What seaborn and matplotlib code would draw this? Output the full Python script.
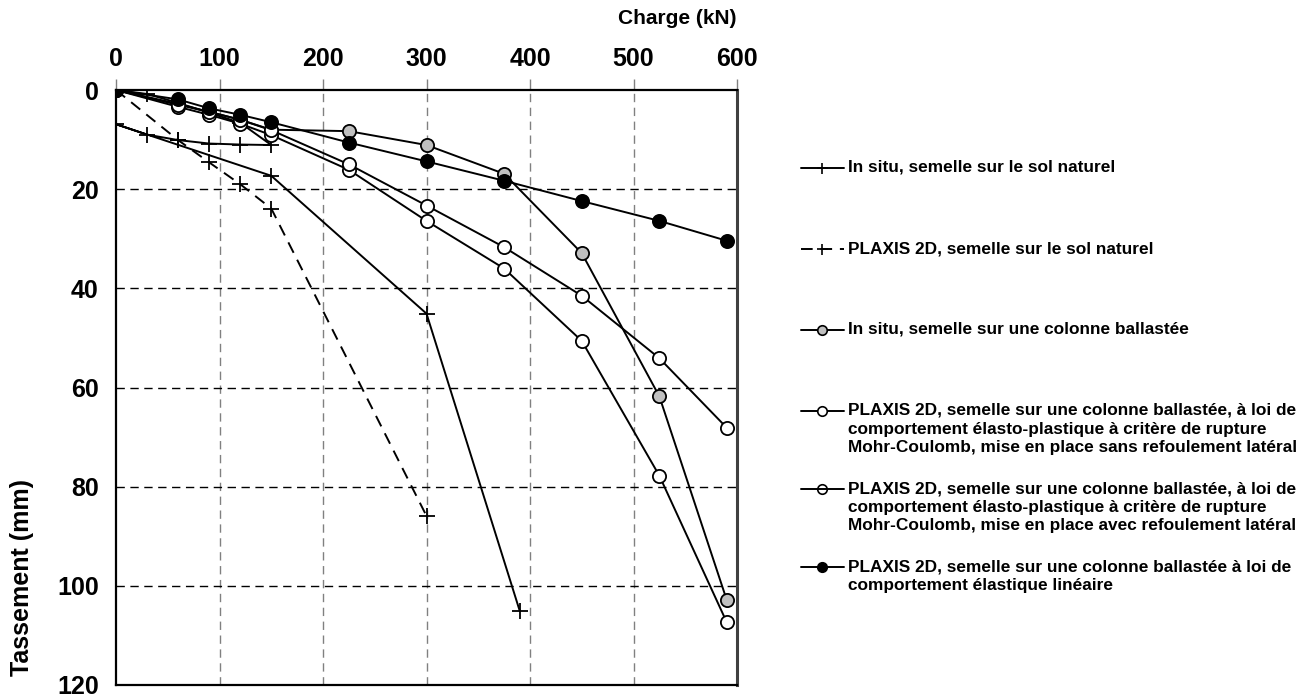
import numpy as np
import pandas as pd
import seaborn as sns
import matplotlib.pyplot as plt
from matplotlib.lines import Line2D

# Charge (kN) / tassement (mm)
charge_insitu_sol = [0, 30, 60, 90, 120, 150, 120, 90, 60, 30, 0, 150, 300, 390]
tass_insitu_sol = [0, 0.8, 2.6, 4.6, 6.6, 11.1, 11.0, 10.8, 10.1, 9.0, 6.9, 17.3, 45.1, 105.0]

charge_plaxis_sol = [0, 60, 90, 120, 150, 300]
tass_plaxis_sol = [0, 10.1, 14.6, 19.0, 23.9, 85.9]

charge_col = [0, 60, 90, 120, 150, 225, 300, 375, 450, 525, 590]
tass_insitu_col = [0, 2.8, 4.4, 6.0, 8.0, 8.3, 11.1, 16.9, 32.9, 61.8, 102.8]
tass_mc_sans = [0, 3.4, 5.0, 6.8, 9.1, 16.1, 26.4, 36.0, 50.6, 77.8, 107.3]
tass_mc_avec = [0, 3.0, 4.4, 6.0, 8.1, 15.0, 23.3, 31.7, 41.5, 54.1, 68.1]
tass_elastique = [0, 1.9, 3.7, 5.0, 6.5, 10.6, 14.4, 18.3, 22.4, 26.4, 30.4]

labels = [
    "In situ, semelle sur le sol naturel",
    "PLAXIS 2D, semelle sur le sol naturel",
    "In situ, semelle sur une colonne ballastée",
    "PLAXIS 2D, semelle sur une colonne ballastée, à loi de\ncomportement élasto-plastique à critère de rupture\nMohr-Coulomb, mise en place sans refoulement latéral",
    "PLAXIS 2D, semelle sur une colonne ballastée, à loi de\ncomportement élasto-plastique à critère de rupture\nMohr-Coulomb, mise en place avec refoulement latéral",
    "PLAXIS 2D, semelle sur une colonne ballastée à loi de\ncomportement élastique linéaire",
]

sns.set_style("white")
plt.rcParams['font.family'] = ['Liberation Sans', 'DejaVu Sans']
plt.rcParams['font.weight'] = 'bold'
plt.rcParams['text.color'] = 'black'
plt.rcParams['xtick.color'] = 'black'
plt.rcParams['ytick.color'] = 'black'

W, H = 1307, 698
fig = plt.figure(figsize=(W / 100, H / 100), dpi=100)
ax = fig.add_axes([116 / W, 1 - 685 / H, (737 - 116) / W, (685 - 90) / H])

series = [
    (charge_insitu_sol, tass_insitu_sol, dict(marker='+', ls='-', mfc='k', ms=11)),
    (charge_plaxis_sol, tass_plaxis_sol, dict(marker='+', ls=(0, (6, 4)), mfc='k', ms=11)),
    (charge_col, tass_insitu_col, dict(marker='o', ls='-', mfc='#c0c0c0', ms=9.5)),
    (charge_col, tass_mc_sans, dict(marker='o', ls='-', mfc='white', ms=9.5)),
    (charge_col, tass_mc_avec, dict(marker='o', ls='-', mfc='white', ms=9.5)),
    (charge_col, tass_elastique, dict(marker='o', ls='-', mfc='black', ms=9.5)),
]

for i, (x, y, st) in enumerate(series):
    df = pd.DataFrame({'charge': x, 'tass': y})
    sns.lineplot(data=df, x='charge', y='tass', sort=False, estimator=None, ax=ax,
                 color='black', linewidth=1.4, linestyle=st['ls'], marker=st['marker'],
                 markersize=st['ms'], markerfacecolor=st['mfc'], markeredgecolor='black',
                 markeredgewidth=1.3, zorder=3 + i)

ax.set_xlim(0, 600)
ax.set_ylim(120, 0)
ax.set_xticks(range(0, 601, 100))
ax.set_yticks(range(0, 121, 20))
ax.xaxis.tick_top()
ax.tick_params(axis='x', direction='out', length=8, width=1, color='#808080', labelsize=18, pad=6)
ax.tick_params(axis='y', direction='inout', length=9, width=1, color='black', labelsize=18, pad=8)
ax.set_xlabel('')
ax.set_ylabel('')
for lab in ax.get_xticklabels() + ax.get_yticklabels():
    lab.set_fontweight('bold')

for v in range(100, 600, 100):
    ax.axvline(v, color='#808080', lw=1, ls=(0, (6, 4)), zorder=1)
for v in range(20, 120, 20):
    ax.axhline(v, color='black', lw=1, ls=(0, (6, 4)), zorder=1)

for side in ['left', 'top', 'bottom']:
    ax.spines[side].set_color('black')
    ax.spines[side].set_linewidth(1.6)
ax.spines['right'].set_color('#404040')
ax.spines['right'].set_linewidth(2.2)

fig.text(737 / W, 1 - 18 / H, 'Charge (kN)', ha='right', va='center', fontsize=15, fontweight='bold')
fig.text(22 / W, 1 - 578 / H, 'Tassement (mm)', ha='center', va='center', rotation=90,
         fontsize=18, fontweight='bold')

# légende dessinée à la main (espacement irrégulier comme dans Excel)
leg_y = [168, 249, 330, 411, 489, 567]
for k, ((x, y, st), lab, yy) in enumerate(zip(series, labels, leg_y)):
    yf = 1 - yy / H
    fig.add_artist(Line2D([801 / W, 844 / W], [yf, yf], transform=fig.transFigure,
                          color='black', lw=1.4, ls=st['ls']))
    face = 'none' if k == 4 else st['mfc']
    fig.add_artist(Line2D([822 / W], [yf], transform=fig.transFigure, color='black',
                          marker=st['marker'], ms=st['ms'] * 0.72, mfc=face,
                          mec='black', mew=1.2, ls='none'))
    fig.text(848 / W, 1 - (yy - 8) / H, lab, ha='left', va='top', fontsize=12.4,
             fontweight='bold', linespacing=1.3)

fig.savefig('out.png', dpi=100)
